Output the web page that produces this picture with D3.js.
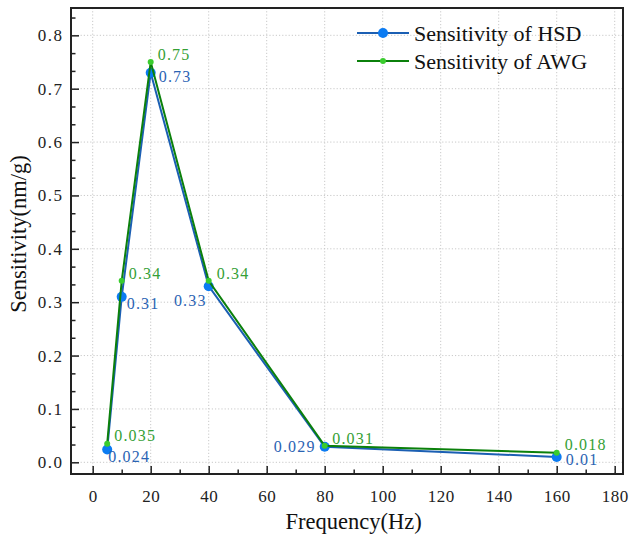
<!DOCTYPE html>
<html>
<head>
<meta charset="utf-8">
<script src="https://cdn.jsdelivr.net/npm/d3@7"></script>
<style>
  body { margin: 0; background: #fff; }
  svg { display: block; }
  svg text { font-family: "Liberation Serif", "DejaVu Serif", "Times New Roman", serif; }
</style>
</head>
<body>
<div id="chart"></div>
<script>
// data
const frequency = [5, 10, 20, 40, 80, 160];
const hsdValues = [0.024, 0.31, 0.73, 0.33, 0.029, 0.01];
const awgValues = [0.035, 0.34, 0.75, 0.34, 0.031, 0.018];
const seriesNames = ["Sensitivity of HSD", "Sensitivity of AWG"];
const xMajorTicks = [0, 20, 40, 60, 80, 100, 120, 140, 160, 180];
const yMajorTicks = [0, 0.1, 0.2, 0.3, 0.4, 0.5, 0.6, 0.7, 0.8];

// where each point label sits (dx, dy from the point, anchor)
const hsdLabelPlace = [[1, 12, "start"], [5, 12, "start"], [8, 9.5, "start"],
                       [-2, 19.5, "end"], [-9, 5.5, "end"], [9, 8, "start"]];
const awgLabelPlace = [[7, -2.5, "start"], [7, -2, "start"], [7, -2, "start"],
                       [8, -2, "start"], [7.5, -2, "start"], [8, -2.5, "start"]];

const width = 629, height = 537;
const margin = {top: 8, right: 6, bottom: 63, left: 71};

const svg = d3.select("#chart").append("svg")
    .attr("width", width)
    .attr("height", height);

const x = d3.scaleLinear()
    .domain([-7.48, 182.86])
    .range([margin.left, width - margin.right]);

const y = d3.scaleLinear()
    .domain([-0.0219, 0.8512])
    .range([height - margin.bottom, margin.top]);

const blueLine = "#1b5fb3", blueMark = "#0b7bf2", blueText = "#2a63b3";
const greenLine = "#0b800b", greenMark = "#3acc2e", greenText = "#35a035";

// grid
svg.append("g")
    .selectAll("line")
    .data(xMajorTicks)
    .join("line")
    .attr("x1", d => x(d)).attr("x2", d => x(d))
    .attr("y1", margin.top).attr("y2", height - margin.bottom)
    .attr("stroke", "#c9c9c9")
    .attr("stroke-dasharray", "1.2,2")
    .attr("stroke-width", 1);

svg.append("g")
    .selectAll("line")
    .data(yMajorTicks)
    .join("line")
    .attr("x1", margin.left).attr("x2", width - margin.right)
    .attr("y1", d => y(d)).attr("y2", d => y(d))
    .attr("stroke", "#c9c9c9")
    .attr("stroke-dasharray", "1.2,2")
    .attr("stroke-width", 1);

// minor ticks: x every 10, y every 0.1/3
const xMinor = d3.range(10, 180, 20);
const yMinor = d3.range(0, 0.86, 0.1 / 3).filter((d, i) => i % 3 !== 0);

// axes (ticks pointing in)
const xAxis = svg.append("g")
    .attr("transform", `translate(0,${height - margin.bottom})`)
    .call(d3.axisBottom(x).tickValues(xMajorTicks).tickSizeInner(-8).tickSizeOuter(0).tickPadding(16));

svg.append("g")
    .attr("transform", `translate(0,${height - margin.bottom})`)
    .call(d3.axisBottom(x).tickValues(xMinor).tickSizeInner(-4.5).tickSizeOuter(0).tickFormat(""))
    .call(g => g.select(".domain").remove());

const yAxis = svg.append("g")
    .attr("transform", `translate(${margin.left},0)`)
    .call(d3.axisLeft(y).tickValues(yMajorTicks).tickSizeInner(-8).tickSizeOuter(0)
        .tickPadding(9).tickFormat(d3.format(".1f")));

svg.append("g")
    .attr("transform", `translate(${margin.left},0)`)
    .call(d3.axisLeft(y).tickValues(yMinor).tickSizeInner(-4.5).tickSizeOuter(0).tickFormat(""))
    .call(g => g.select(".domain").remove());

svg.selectAll(".tick line").attr("stroke", "#222").attr("stroke-width", 1.5);

[xAxis, yAxis].forEach(g => {
    g.select(".domain").remove();
    g.selectAll(".tick text")
        .attr("font-family", null)
        .attr("font-size", 17)
        .attr("fill", "#222");
});
xAxis.selectAll(".tick text").attr("dy", "0.71em").attr("letter-spacing", "0.5px");
yAxis.selectAll(".tick text").attr("letter-spacing", "1.5px").attr("dx", "1.5");

// frame
svg.append("rect")
    .attr("x", margin.left)
    .attr("y", margin.top)
    .attr("width", width - margin.left - margin.right)
    .attr("height", height - margin.top - margin.bottom)
    .attr("fill", "none")
    .attr("stroke", "#222")
    .attr("stroke-width", 2);

// series
const line = d3.line().x(d => x(d[0])).y(d => y(d[1]));

function drawSeries(values, lineColor, markColor, r) {
    const pts = frequency.map((f, i) => [f, values[i]]);
    svg.append("path")
        .datum(pts)
        .attr("d", line)
        .attr("fill", "none")
        .attr("stroke", lineColor)
        .attr("stroke-width", 2);
    svg.append("g")
        .selectAll("circle")
        .data(pts)
        .join("circle")
        .attr("cx", d => x(d[0]))
        .attr("cy", d => y(d[1]))
        .attr("r", r)
        .attr("fill", markColor);
}

drawSeries(hsdValues, blueLine, blueMark, 5);
drawSeries(awgValues, greenLine, greenMark, 3);

function drawLabels(values, place, color) {
    svg.append("g")
        .selectAll("text")
        .data(frequency.map((f, i) => ({f, v: values[i], p: place[i]})))
        .join("text")
        .attr("x", d => x(d.f) + d.p[0])
        .attr("y", d => y(d.v) + d.p[1])
        .attr("text-anchor", d => d.p[2])
        .attr("font-size", 16)
        .attr("letter-spacing", "1.2px")
        .attr("fill", color)
        .text(d => String(d.v));
}

drawLabels(hsdValues, hsdLabelPlace, blueText);
drawLabels(awgValues, awgLabelPlace, greenText);

// legend
const legend = svg.append("g").attr("transform", "translate(357,33)");
const legendItems = [
    {name: seriesNames[0], lc: blueLine, mc: blueMark, r: 5},
    {name: seriesNames[1], lc: greenLine, mc: greenMark, r: 3}
];
legendItems.forEach((it, i) => {
    const g = legend.append("g").attr("transform", `translate(0,${i * 28})`);
    g.append("line").attr("x1", 0).attr("x2", 52).attr("y1", 0).attr("y2", 0)
        .attr("stroke", it.lc).attr("stroke-width", 2);
    g.append("circle").attr("cx", 26).attr("cy", 0).attr("r", it.r).attr("fill", it.mc);
    g.append("text")
        .attr("x", 57).attr("y", 7.5)
        .attr("font-size", 22)
        .attr("fill", "#111")
        .text(it.name);
});

// axis titles
svg.append("text")
    .attr("x", x(90))
    .attr("y", 529)
    .attr("text-anchor", "middle")
    .attr("font-size", 22.5)
    .attr("fill", "#111")
    .text("Frequency(Hz)");

svg.append("text")
    .attr("transform", "rotate(-90)")
    .attr("x", -234)
    .attr("y", 26)
    .attr("text-anchor", "middle")
    .attr("font-size", 22.5)
    .attr("fill", "#111")
    .text("Sensitivity(nm/g)");
</script>
</body>
</html>
